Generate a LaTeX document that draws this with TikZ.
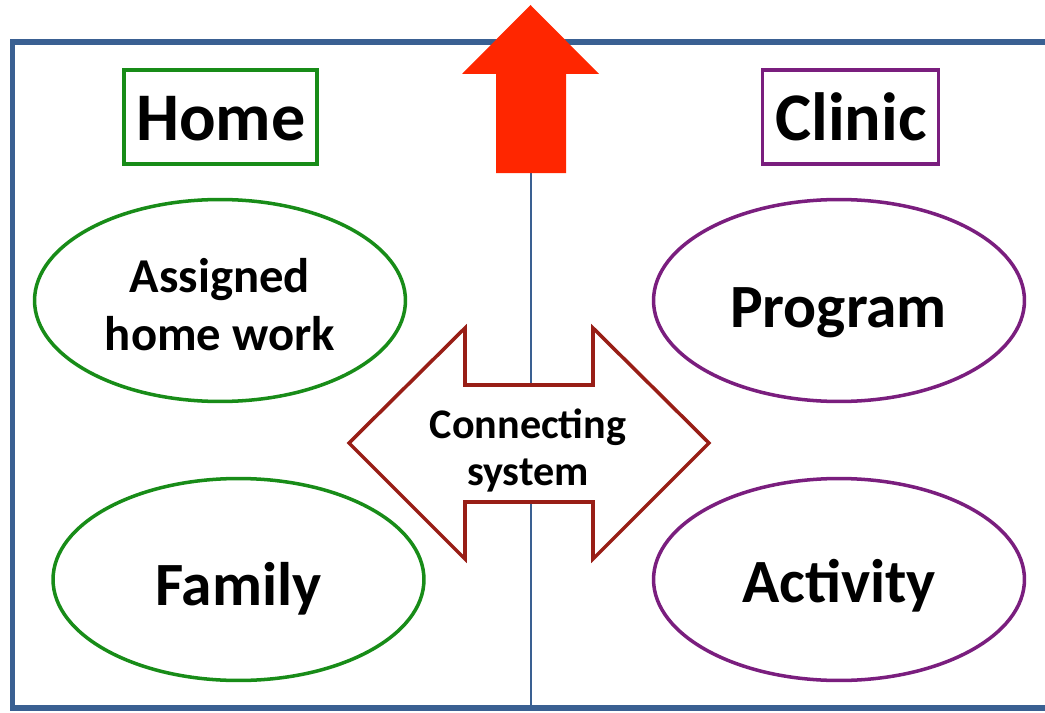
\documentclass[tikz,border=0pt]{standalone}
\usepackage{fontspec}
\setmainfont{Carlito}
\usetikzlibrary{shapes.geometric}

\definecolor{framecol}{RGB}{58,96,146}
\definecolor{homecol}{RGB}{24,140,24}
\definecolor{cliniccol}{RGB}{122,30,126}
\definecolor{linkcol}{RGB}{152,30,22}
\definecolor{upcol}{RGB}{255,38,0}

\begin{document}
\begin{tikzpicture}[x=0.02cm,y=-0.02cm,
  oval/.style={ellipse,line width=2pt,minimum width=7.42cm,minimum height=4.04cm,inner sep=0pt},
  tagbox/.style={rectangle,line width=2pt,minimum height=1.88cm,inner sep=0pt},
  tagword/.style={font=\bfseries\fontsize{38.8}{44}\selectfont,anchor=base,inner sep=0pt},
  bigword/.style={font=\bfseries\fontsize{35}{40}\selectfont,anchor=base,inner sep=0pt},
  midword/.style={font=\bfseries\fontsize{27.7}{33}\selectfont,anchor=base,inner sep=0pt,align=center},
  smallword/.style={font=\bfseries\fontsize{24}{26.6}\selectfont,anchor=base,inner sep=0pt,align=center}]

\useasboundingbox (0,0) rectangle (1045,713) ;
\clip (0,0) rectangle (1045,713) ;

% frame and middle line
\draw[framecol,line width=3pt] (1070,42) -- (12.5,42) -- (12.5,708) -- (1070,708) ;
\draw[framecol,line width=1.2pt] (531,170) -- (531,708) ;

% home side
\node[tagbox,draw=homecol,minimum width=3.86cm] (homebox) at (220.5,117) {} ;
\node[tagword] (home) at (221,141) {Home} ;
\node[oval,draw=homecol] (assigned) at (220,300.5) {} ;
\node[midword] (assignedtxt) at (220,350) {Assigned\\home work} ;
\node[oval,draw=homecol] (family) at (238.5,579.5) {} ;
\node[bigword] (familytxt) at (238.5,605) {Family} ;

% clinic side
\node[tagbox,draw=cliniccol,minimum width=3.52cm] (clinicbox) at (850.5,117) {} ;
\node[tagword] (clinic) at (851,141) {Clinic} ;
\node[oval,draw=cliniccol] (program) at (839,300.5) {} ;
\node[bigword] (programtxt) at (838.5,327) {Program} ;
\node[oval,draw=cliniccol] (activity) at (839,579.5) {} ;
\node[bigword] (activitytxt) at (839,602) {Activity} ;

% connecting arrow
\draw[linkcol,line width=2pt,fill=white] (349,443) -- (465,328) -- (465,385) -- (593,385) -- (593,328) -- (709,443) -- (593,559) -- (593,502) -- (465,502) -- (465,559) -- cycle ;
\node[smallword] (link) at (528,485) {Connecting\\system} ;

% up arrow
\fill[upcol] (530.5,5) -- (599,74) -- (566,74) -- (566,173) -- (496,173) -- (496,74) -- (462,74) -- cycle ;

\end{tikzpicture}
\end{document}
